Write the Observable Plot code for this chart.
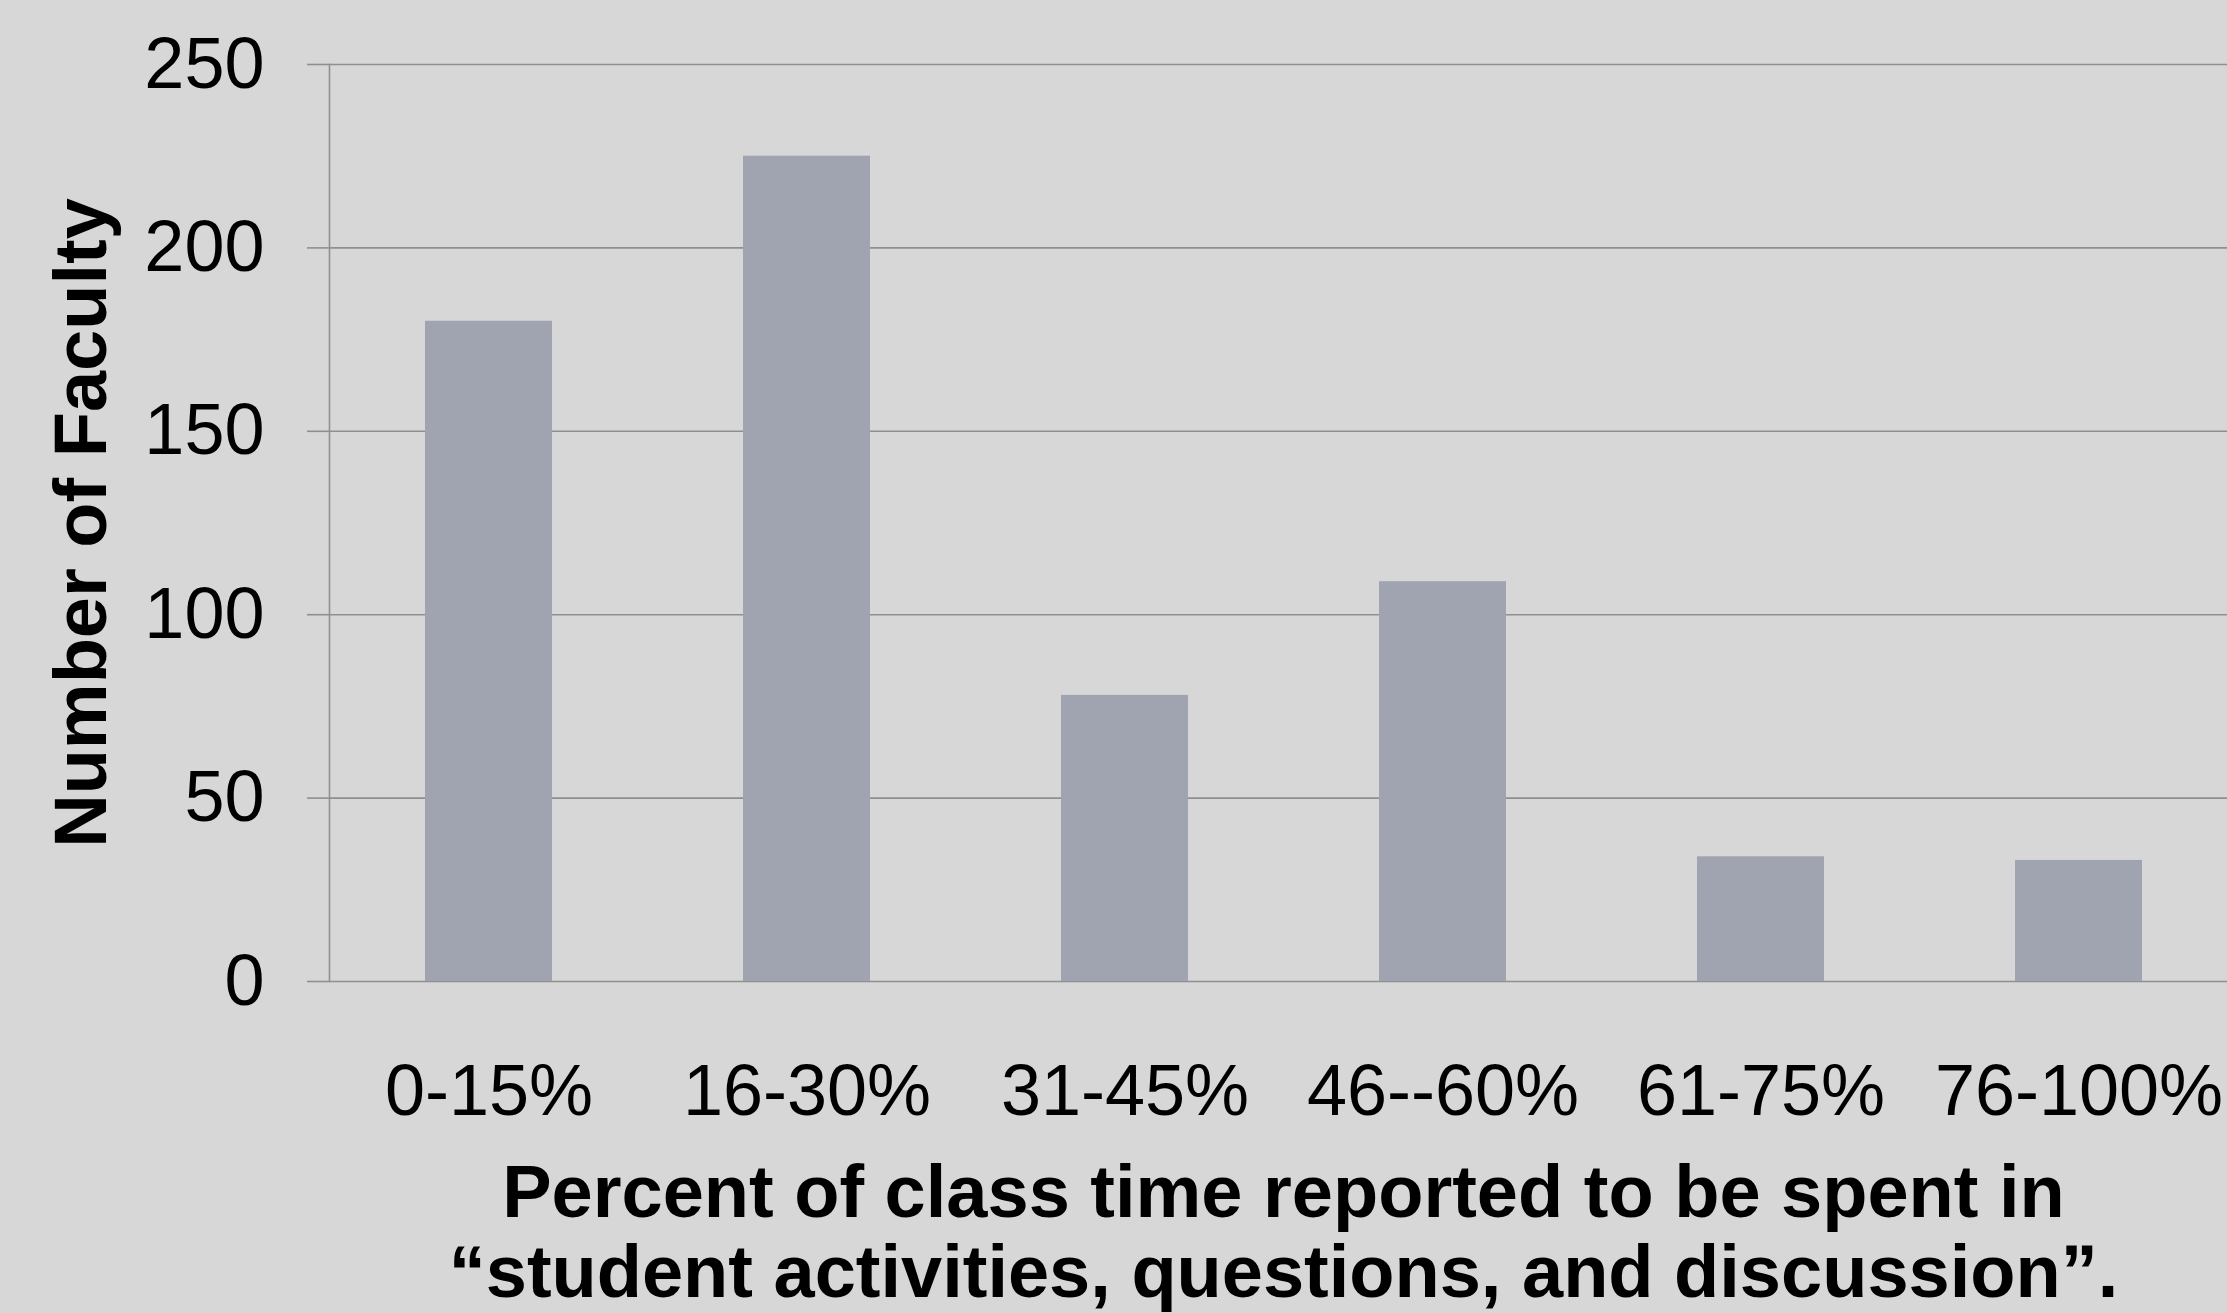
<!DOCTYPE html>
<html><head><meta charset="utf-8">
<script src="https://cdn.jsdelivr.net/npm/d3@7"></script>
<script src="https://cdn.jsdelivr.net/npm/@observablehq/plot@0.6"></script>
<style>
html,body{margin:0;padding:0;background:#d7d7d7;overflow:hidden;}
#chart svg{background:#d7d7d7;display:block;}
#caption{font-family:"Liberation Sans",Arial,sans-serif;font-weight:bold;font-size:74px;line-height:80px;color:#000;text-align:center;margin-left:329px;width:1909px;white-space:nowrap;}
g[aria-label="y-axis label"] text{font-weight:bold;font-size:74px;}
</style></head><body>
<div id="chart"></div>
<div id="caption">Percent of class time reported to be spent in<br>“student activities, questions, and discussion”.</div>
<script>
const categories = ["0-15%", "16-30%", "31-45%", "46--60%", "61-75%", "76-100%"];
const counts = [180, 225, 78, 109, 34, 33];
const yTicks = [0, 50, 100, 150, 200, 250];
const yLabel = "Number of Faculty";
const data = categories.map((c, i) => ({category: c, count: counts[i]}));

const plot = Plot.plot({
  width: 2227, height: 1152,
  marginLeft: 329, marginRight: 0, marginTop: 64, marginBottom: 171,
  style: {background: "#d7d7d7", fontFamily: "Liberation Sans, Arial, sans-serif", color: "#000"},
  x: {domain: categories, range: [329.5, 2237.5], paddingInner: 0.6, paddingOuter: 0.3},
  y: {domain: [0, 250]},
  marks: [
    Plot.ruleY(yTicks, {stroke: "#8f8f8f", strokeWidth: 1.6}),
    Plot.barY(data, {x: "category", y: "count", fill: "#a0a4b0"}),
    Plot.frame({anchor: "left", stroke: "#8f8f8f", strokeWidth: 1.6}),
    Plot.axisY(yTicks, {tickSize: 22, tickPadding: 43, fontSize: 72, stroke: "#8f8f8f", strokeWidth: 1.6, fill: "#000",
      label: yLabel, labelAnchor: "center", labelArrow: false, labelOffset: 276}),
    Plot.axisX({tickSize: 0, tickPadding: 82, fontSize: 72, fill: "#000", label: null})
  ]
});
document.getElementById("chart").appendChild(plot);
</script>
</body></html>
